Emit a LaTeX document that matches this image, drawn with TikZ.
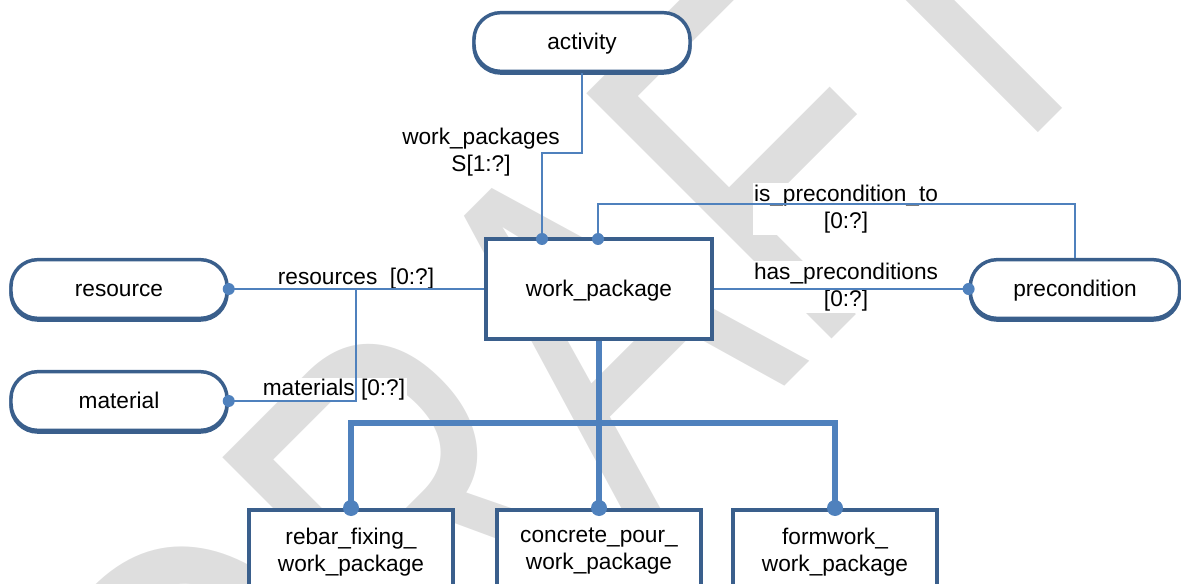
\documentclass[tikz,border=0pt]{standalone}
\usepackage{fontspec}
\setmainfont{Liberation Sans}
\usetikzlibrary{positioning, calc}
\definecolor{cEdge}{RGB}{58,95,140}
\definecolor{cLink}{RGB}{79,129,189}
\tikzset{
	entity/.style ={rectangle, rounded corners=20pt, minimum width=162pt, minimum height=44pt, text height=15.4pt, text depth=3.6pt, draw=cEdge, line width=2.6pt, fill=white,
	                preaction={draw=cEdge, line width=2.6pt, transform canvas={yshift=-1.3pt}}},
	wpbox/.style  ={rectangle, minimum width=169pt, minimum height=75pt, text height=15.4pt, text depth=3.6pt, draw=cEdge, line width=3pt, fill=white},
	subbox/.style ={rectangle, minimum width=153pt, inner ysep=13.5pt, anchor=north, align=center, draw=cEdge, line width=3pt, fill=white},
	attr/.style   ={fill=white, inner sep=1pt, align=center},
	link/.style   ={draw=cLink, line width=1.1pt},
	sublink/.style={draw=cLink, line width=4.5pt},
	wmark/.style  ={transform shape, anchor=base, inner sep=0pt, text=gray!26, font=\fontsize{278}{278}\selectfont},
}

\begin{document}
\begin{tikzpicture}[font=\fontsize{17}{20.5}\selectfont, x=0.75pt, y=-0.75pt]
	\clip (0,0) rectangle (1181,584);
	% watermark
	\begin{scope}[shift={(694,477)}, rotate=45, yscale=1.36]
		\node[wmark] (draft) at (0,0) {DRAFT};
	\end{scope}
	% entities
	\node[entity] (act) at (582,42) {activity};
	\node[entity] (res) at (119,289) {resource};
	\node[entity] (mat) at (119,401) {material};
	\node[entity, minimum width=157pt] (pre) at (1075,289) {precondition};
	\node[wpbox] (wp) at (599,289) {work\_package};
	\node[subbox] (rebar) at (351,508) {rebar\_fixing\_\\work\_package};
	\node[subbox] (conc) at (599,508) {concrete\_pour\_\\work\_package};
	\node[subbox] (form) at (835,508) {formwork\_\\work\_package};
	% attribute labels
	\node[attr] (lWp) at (481,152) {work\_packages\\S[1:?]};
	\node[attr] (lPreTo) at (846,209) {is\_precondition\_to\\{[0:?]}};
	\node[attr] (lHasPre) at (846,287) {has\_preconditions\\{[0:?]}};
	\node[attr] (lRes) at (356,279) {resources\ \ [0:?]};
	\node[attr] (lMat) at (334,390) {materials [0:?]};
	% attributes
	\coordinate (wpA) at (542,239);
	\coordinate (wpB) at (598,239);
	\coordinate (jn) at (356,289);
	\draw[link] (act.south) |- ($(wpA)+(0,-86)$) -- (wpA);
	\draw[link] (wpB) -- ++(0,-35) -| (pre.north);
	\draw[link] (wp.east) -- (pre.west);
	\draw[link] (wp.west) -- (res.east);
	\draw[link] (jn) |- (mat.east);
	\foreach \p in {wpA, wpB, pre.west, res.east, mat.east}
		\fill[cLink] (\p) circle[radius=4.5pt];
	% subtypes
	\coordinate (bar) at (599,423);
	\draw[sublink] (wp.south) -- (bar);
	\draw[sublink] (rebar.north) |- (bar) -| (form.north);
	\draw[sublink] (bar) -- (conc.north);
	\foreach \p in {rebar, conc, form}
		\fill[cLink] (\p.north) circle[radius=6pt];
\end{tikzpicture}
\end{document}
